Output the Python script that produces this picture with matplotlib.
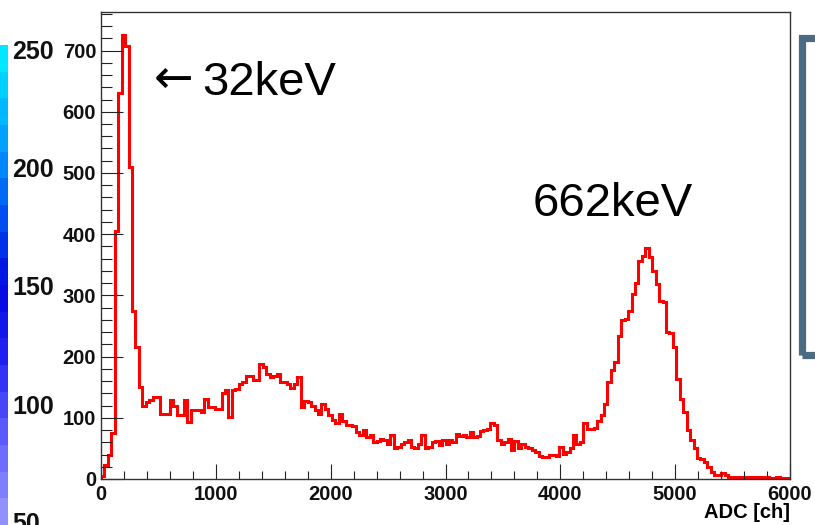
import numpy as np
import matplotlib
matplotlib.use("Agg")
import matplotlib.pyplot as plt
from matplotlib.ticker import MultipleLocator
from matplotlib.patches import Rectangle
from matplotlib.colors import LinearSegmentedColormap

plt.rcParams['font.family'] = ['Liberation Sans', 'DejaVu Sans']

# --- histogram data: 200 bins of 30 ch ---
BIN_WIDTH = 30
N_BINS = 200

counts_peak1 = [5, 23, 39, 75, 405, 631, 726, 707, 509, 275, 215, 150]
counts_compton = [
    120, 125, 129, 134, 134, 106, 106, 106, 129, 120, 104, 104, 129, 93, 112, 113, 113, 110,
    131, 117, 117, 115, 115, 140, 145, 101, 145, 147, 155, 159, 169, 168, 162, 161, 188, 183,
    172, 166, 168, 172, 159, 158, 156, 148, 156, 166, 117, 128, 125, 120, 112, 107, 123, 115,
    104, 96, 91, 107, 95, 88, 88, 86, 76, 72, 80, 69, 72, 61, 62, 66, 63, 58, 72, 50,
    52, 58, 61, 63, 52, 50, 58, 72, 50, 52, 60, 62, 55, 63, 57, 63, 60, 74, 70, 72,
    69, 77, 68, 70, 78, 80, 82, 91, 88, 63, 58, 60, 66, 48, 62, 50, 58, 52, 50, 47,
    44, 38, 36, 36, 39, 39, 38, 52, 41, 44, 50, 72, 58, 60,
]
counts_peak2 = [
    91, 82, 81, 84, 94, 105, 122, 158, 178, 191, 234, 259, 262, 275, 302, 321, 356, 365,
    378, 362, 340, 318, 291, 290, 240, 238, 215, 164, 130, 110, 80, 64, 50, 34, 32, 28,
    20, 12, 6, 6, 9, 6,
]
counts_tail = [4, 4, 3, 4, 3, 3, 4, 3, 3, 2, 3, 3, 2, 2, 3, 2, 2, 1]

counts = np.array(counts_peak1 + counts_compton + counts_peak2 + counts_tail, dtype=float)
edges = np.arange(len(counts) + 1) * BIN_WIDTH

colorbar_labels = ['250', '200', '150', '100', '50']
colorbar_label_y = [52, 170, 288, 407, 524]

W, H = 815, 525
fig = plt.figure(figsize=(W / 100, H / 100), dpi=100)

# left strip: piece of a colour palette cut by the screenshot
cax = fig.add_axes([0, 0, 8 / W, (H - 45) / H])
pal = LinearSegmentedColormap.from_list('pal', [
    (0.0, '#9090ff'), (0.15, '#6464ff'), (0.35, '#2020f0'),
    (0.5, '#0008e0'), (0.65, '#0050f0'), (0.8, '#0098ff'), (1.0, '#00e8ff')])
bands = np.linspace(0, 1, 18).reshape(-1, 1)
cax.imshow(bands, cmap=pal, aspect='auto', origin='lower', interpolation='nearest')
cax.set_axis_off()
for lab, yy in zip(colorbar_labels, colorbar_label_y):
    fig.text(12 / W, 1 - yy / H, lab, fontsize=18, fontweight='bold',
             ha='left', va='center', color='#111111')

# right edge: part of a framed box
fig.patches.append(Rectangle((801.5 / W, 1 - 354.5 / H), 200 / W, 317 / H,
                             transform=fig.transFigure, fill=False,
                             edgecolor='#4a6b82', linewidth=5.2))

ax = fig.add_axes([101 / W, 1 - 479 / H, (790 - 101) / W, (479 - 12) / H])
ax.stairs(counts, edges, color='#ff0000', linewidth=2.2, baseline=0)

ax.set_xlim(0, 6000)
ax.set_ylim(0, 763)
ax.xaxis.set_major_locator(MultipleLocator(1000))
ax.xaxis.set_minor_locator(MultipleLocator(200))
ax.yaxis.set_major_locator(MultipleLocator(100))
ax.yaxis.set_minor_locator(MultipleLocator(20))

ax.tick_params(axis='both', which='both', direction='in', top=False, right=False,
               width=0.8, colors='#222222', labelcolor='#111111')
ax.tick_params(axis='x', which='major', length=11, pad=4)
ax.tick_params(axis='x', which='minor', length=5.8)
ax.tick_params(axis='y', which='major', length=15.5, pad=3.5)
ax.tick_params(axis='y', which='minor', length=8.2)
for lab in ax.get_xticklabels() + ax.get_yticklabels():
    lab.set_fontsize(14.5)
    lab.set_fontweight('bold')
for sp in ax.spines.values():
    sp.set_linewidth(1.0)
    sp.set_color('#333333')

fig.text(790 / W, 1 - 513 / H, 'ADC [ch]', fontsize=14.5, fontweight='bold',
         ha='right', va='center')

# peak labels
fig.text(154 / W, 1 - 93 / H, '\u2190', fontsize=34, family='DejaVu Sans',
         ha='left', va='baseline')
fig.text(202 / W, 1 - 95 / H, '32keV', fontsize=34, ha='left', va='baseline')
fig.text(533 / W, 1 - 216 / H, '662keV', fontsize=34, ha='left', va='baseline')

fig.savefig('out.png', dpi=100)
